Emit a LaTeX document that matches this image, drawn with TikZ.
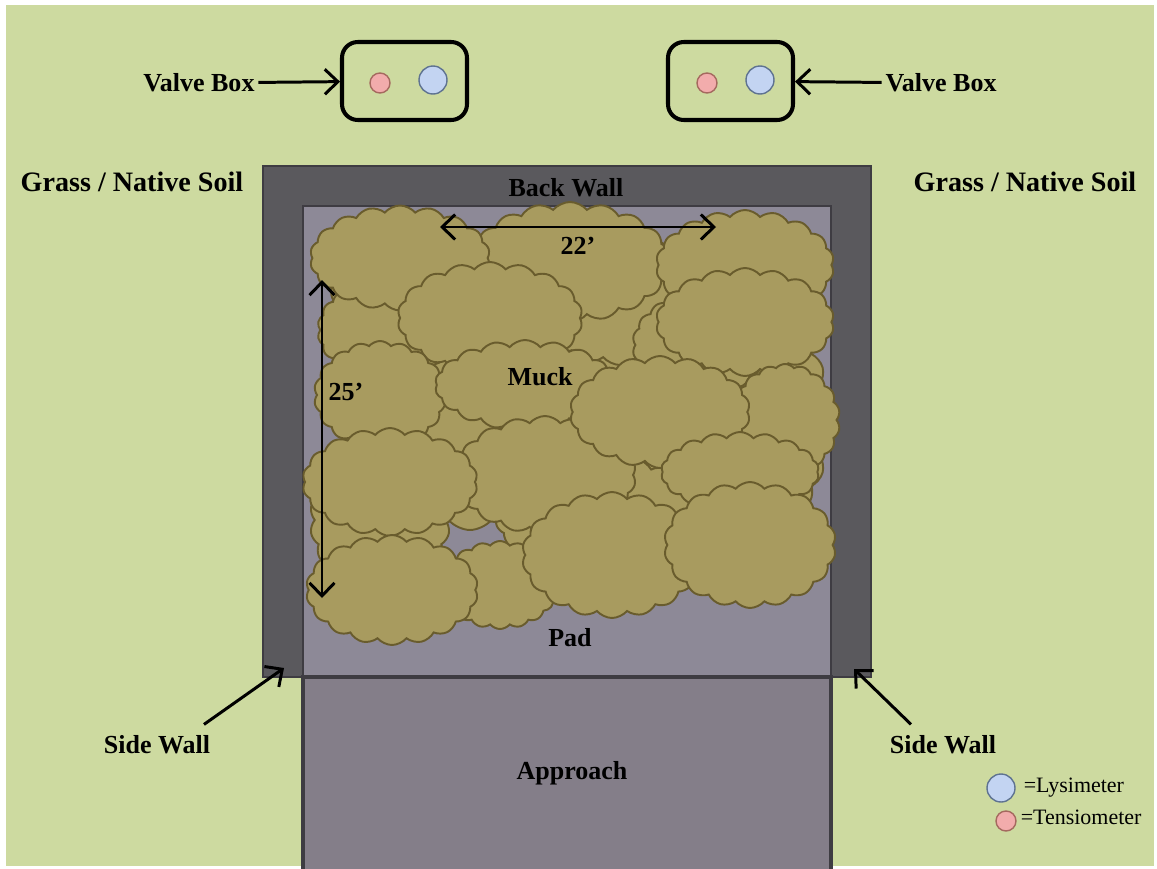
\documentclass[tikz,border=0pt]{standalone}
\usepackage{fontspec}
\setmainfont{Liberation Serif}
\usepackage{tikz}
\usetikzlibrary{positioning,shapes.symbols,arrows.meta}

\definecolor{grass}{RGB}{205,218,160}
\definecolor{wallgray}{RGB}{90,89,93}
\definecolor{padgray}{RGB}{141,137,151}
\definecolor{appgray}{RGB}{132,126,137}
\definecolor{edgegray}{RGB}{62,60,66}
\definecolor{muckfill}{RGB}{168,155,95}
\definecolor{muckline}{RGB}{105,92,45}
\definecolor{tensfill}{RGB}{242,172,172}
\definecolor{tensline}{RGB}{165,105,95}
\definecolor{lysifill}{RGB}{195,212,242}
\definecolor{lysiline}{RGB}{95,115,145}

\tikzset{
  lbl/.style={font=\fontsize{14.8}{17}\selectfont\bfseries, inner sep=2pt},
  soil/.style={font=\fontsize{16}{19}\selectfont\bfseries},
  legendtxt/.style={font=\fontsize{12.5}{14}\selectfont, anchor=west, inner sep=1pt},
  valvebox/.style={draw, line width=2.3pt, rounded corners=9pt, fill=grass,
    minimum width=2.5cm, minimum height=1.56cm},
  tensio/.style={circle, draw=tensline, fill=tensfill, line width=0.8pt, minimum size=0.4cm, inner sep=0pt},
  lysi/.style={circle, draw=lysiline, fill=lysifill, line width=0.8pt, minimum size=0.56cm, inner sep=0pt},
  muck/.style={cloud, cloud puffs=18, cloud puff arc=100, cloud ignores aspect,
    draw=muckline, fill=muckfill, line width=1.1pt, inner sep=0pt},
  ptr/.style={-{Straight Barb[length=2.6mm,width=5mm]}, line width=1.7pt},
  dim/.style={{Straight Barb[length=2.6mm,width=5mm]}-{Straight Barb[length=2.6mm,width=5mm]}, line width=1.7pt},
}

\begin{document}
\begin{tikzpicture}[x=0.02cm, y=-0.02cm]
\useasboundingbox (0,0) rectangle (1157,869);
\fill[white] (0,0) rectangle (1157,869);
\fill[grass] (6,5) rectangle (1154,866);

% walls, pad and approach
\draw[fill=wallgray, draw=edgegray, line width=0.8pt] (263,166) rectangle (871,677);
\draw[fill=padgray, draw=edgegray, line width=0.8pt] (303,206) rectangle (831,677);
\draw[fill=appgray, draw=edgegray, line width=1.8pt] (303,677) rectangle (831,872);

% muck piles, back to front
\foreach \cx/\cy/\w/\h in {470/410/260/240, 660/400/250/240, 775/420/110/210,
    430/300/200/130, 620/300/200/130, 600/515/210/120, 380/520/140/150,
    570/262/200/120, 375/330/115/95, 700/345/135/105,
    400/258/180/105, 745/265/178/110, 490/318/185/112, 745/322/178/108,
    785/420/110/112, 380/395/132/108, 525/385/180/90, 545/475/182/118,
    660/412/180/112, 740/472/158/80, 390/482/175/108, 500/585/118/88,
    612/555/180/126, 750/545/172/126, 392/590/172/110}
  \node[muck, minimum width=\w*0.02cm, minimum height=\h*0.02cm] at (\cx,\cy) {};

\node[lbl] (backwall) at (566,188) {Back Wall};
\node[lbl] (muck) at (540,377) {Muck};
\node[lbl] (pad) at (570,638) {Pad};
\node[lbl] (approach) at (572,773) {Approach};

% dimensions
\coordinate (wa) at (440,227);
\coordinate (wb) at (716,227);
\draw[dim] (wa) -- (wb);
\node[lbl] (width) at (578,246) {22’};
\coordinate (la) at (322,280);
\coordinate (lb) at (322,598);
\draw[dim] (la) -- (lb);
\node[lbl] (length) at (346,392) {25’};

% valve boxes
\node[valvebox] (vbL) at (404.5,81) {};
\node[tensio] (tL) at (380,83) {};
\node[lysi] (lL) at (433,80) {};
\node[valvebox] (vbR) at (730.5,81) {};
\node[tensio] (tR) at (707,83) {};
\node[lysi] (lR) at (760,80) {};

\node[lbl] (vbLtxt) at (199,83) {Valve Box};
\node[lbl] (vbRtxt) at (941,83) {Valve Box};
\draw[ptr] (vbLtxt) -- (vbL);
\draw[ptr] (vbRtxt) -- (vbR);

\node[soil] (soilL) at (132,182) {Grass / Native Soil};
\node[soil] (soilR) at (1025,182) {Grass / Native Soil};

% side walls
\node[lbl] (sideL) at (157,745) {Side Wall};
\node[lbl] (sideR) at (943,745) {Side Wall};
\coordinate (swL) at (284,668);
\coordinate (swR) at (854,669);
\draw[ptr] ([xshift=-0.2cm, yshift=0.15cm]sideL.north east) -- (swL);
\draw[ptr] ([xshift=0.5cm, yshift=0.15cm]sideR.north west) -- (swR);

% legend
\node[lysi] (lgL) at (1001,788) {};
\node[legendtxt] (lgLtxt) at ([xshift=0.12cm]lgL.east) {=Lysimeter};
\node[tensio] (lgT) at (1006,821) {};
\node[legendtxt] (lgTtxt) at ([xshift=0.04cm, yshift=0.08cm]lgT.east) {=Tensiometer};
\end{tikzpicture}
\end{document}
